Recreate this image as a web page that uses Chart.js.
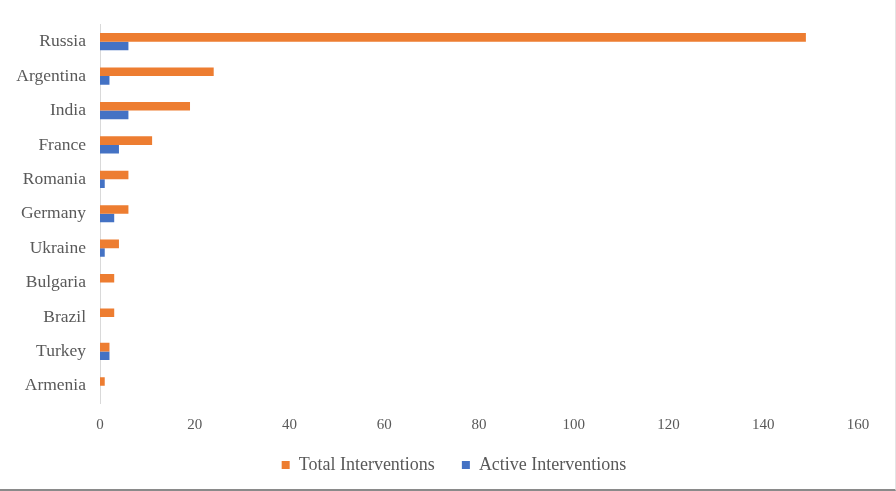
<!DOCTYPE html>
<html><head><meta charset="utf-8">
<script src="https://cdn.jsdelivr.net/npm/chart.js@4/dist/chart.umd.min.js"></script>
<style>
html,body{margin:0;padding:0;background:#fff;}
#wrap{position:relative;width:896px;height:491px;box-sizing:border-box;border-bottom:2px solid #8a8a8a;border-right:1px solid #e4e4e4;}
</style></head>
<body><div id="wrap"><canvas id="c"></canvas></div>
<script>
const categories = ["Russia","Argentina","India","France","Romania","Germany","Ukraine","Bulgaria","Brazil","Turkey","Armenia"];
const totalInterventions = [149,24,19,11,6,6,4,3,3,2,1];
const activeInterventions = [6,2,6,4,1,3,1,0,0,2,0];
const xTicks = [0,20,40,60,80,100,120,140,160];

const FONT = "'Liberation Serif','Times New Roman',serif";
const legendShift = {
  id: 'legendShift',
  afterLayout(chart) {
    if (chart.legend) { chart.legend.left += 25; chart.legend.right += 25; }
  }
};
new Chart(document.getElementById('c'), {
  type: 'bar',
  data: {
    labels: categories,
    datasets: [
      {label:'Total Interventions', data: totalInterventions, backgroundColor:'#ED7D31', categoryPercentage:0.5, barPercentage:1.0},
      {label:'Active Interventions', data: activeInterventions, backgroundColor:'#4472C4', categoryPercentage:0.5, barPercentage:1.0}
    ]
  },
  plugins: [legendShift],
  options: {
    indexAxis: 'y',
    responsive: true,
    maintainAspectRatio: false,
    animation: false,
    layout: {padding: {left: 0, right: 37, top: 21, bottom: 5}},
    plugins: {
      tooltip: {enabled:false},
      legend: {
        position: 'bottom',
        labels: {
          boxWidth: 8, boxHeight: 8, padding: 9,
          color: '#595959',
          font: {family: FONT, size: 18},
          generateLabels: (chart) => {
            const items = Chart.defaults.plugins.legend.labels.generateLabels(chart);
            if (items.length) items[0].text = items[0].text + '\u2003';
            return items;
          }
        }
      }
    },
    scales: {
      x: {
        min: 0, max: 160,
        afterBuildTicks: (ax) => { ax.ticks = xTicks.map(v => ({value: v})); },
        grid: {display: false, drawTicks: false},
        border: {display: false},
        ticks: {color:'#595959', font:{family: FONT, size: 15}, padding: 13}
      },
      y: {
        grid: {display: false, drawTicks: false},
        border: {display: true, color: '#d9d9d9', width: 1},
        afterFit: (ax) => { ax.width = 100; },
        ticks: {color:'#595959', font:{family: FONT, size: 17.5}, padding: 14}
      }
    }
  }
});
</script></body></html>
